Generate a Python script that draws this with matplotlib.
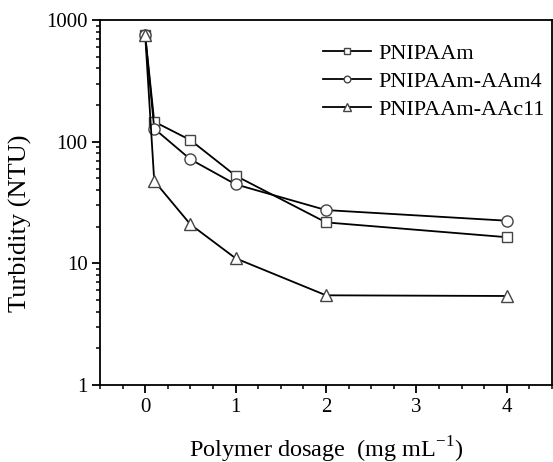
import numpy as np
import matplotlib
matplotlib.use('Agg')
import matplotlib.pyplot as plt
from matplotlib.ticker import FixedLocator, MultipleLocator, LogLocator, NullFormatter

plt.rcParams['font.family'] = ['Liberation Serif', 'DejaVu Serif']
plt.rcParams['mathtext.fontset'] = 'custom'
plt.rcParams['mathtext.rm'] = 'Liberation Serif'

dosage = [0, 0.1, 0.5, 1, 2, 4]
pnipaam = [750, 146, 103, 52.5, 21.7, 16.4]
pnipaam_aam4 = [750, 128, 71.6, 44.6, 27.4, 22.4]
pnipaam_aac11 = [750, 47.5, 20.9, 11.0, 5.46, 5.39]
labels = ['PNIPAAm', 'PNIPAAm-AAm4', 'PNIPAAm-AAc11']

fig = plt.figure(figsize=(5.53, 4.62), dpi=100)
ax = fig.add_axes([100/553, 1 - 385/462, 452/553, 365/462])

ax.plot(dosage, pnipaam, color='black', lw=1.3, marker='s', ms=7,
        mfc='white', mec='#444444', mew=1.0, label=labels[0])
ax.plot(dosage, pnipaam_aam4, color='black', lw=1.3, marker='o', ms=8,
        mfc='white', mec='#444444', mew=1.0, label=labels[1])
ax.plot(dosage, pnipaam_aac11, color='black', lw=1.3, marker='^', ms=9,
        mfc='white', mec='#444444', mew=1.0, label=labels[2])

ax.set_yscale('log')
ax.set_ylim(1, 1000)
ax.set_xlim(-0.5, 4.5)
ax.xaxis.set_major_locator(FixedLocator([0, 1, 2, 3, 4]))
ax.xaxis.set_minor_locator(MultipleLocator(0.25))
ax.yaxis.set_minor_locator(LogLocator(base=10, subs=np.arange(2, 10)))
ax.yaxis.set_minor_formatter(NullFormatter())
ax.set_yticks([1, 10, 100, 1000])
ax.set_yticklabels(['1', '10', '100', '1000'])

ax.tick_params(axis='both', which='major', direction='out', length=5.5, width=1.3,
               labelsize=15, top=False, right=False)
ax.tick_params(axis='both', which='minor', direction='out', length=3, width=1.1,
               top=False, right=False)
for s in ax.spines.values():
    s.set_linewidth(1.3)

ax.set_ylabel('Turbidity (NTU)', fontsize=19)
ax.yaxis.set_label_coords(-0.15, 0.444)
ax.set_xlabel('Polymer dosage  (mg mL$^{\\mathrm{-1}}$)', fontsize=17.5)
ax.xaxis.set_label_coords(0.5, -0.137)

leg = ax.legend(loc='upper right', frameon=False, fontsize=16, handlelength=2.2,
                handletextpad=0.3, labelspacing=0.32, markerscale=0.6,
                bbox_to_anchor=(1.028, 0.99))

fig.savefig('out.png', dpi=100)
